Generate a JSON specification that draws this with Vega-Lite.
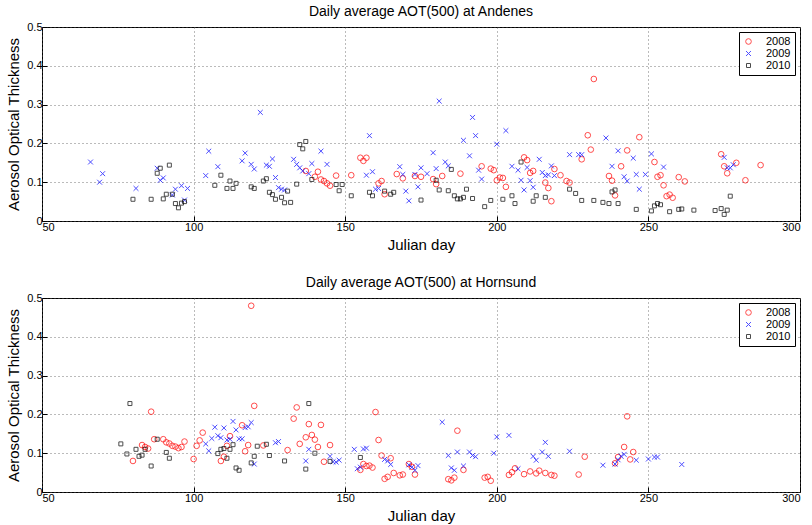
{
  "$schema": "https://vega.github.io/schema/vega-lite/v6.json",
  "padding": {"left": 6, "top": 4, "right": 4, "bottom": 0},
  "spacing": 22,
  "datasets": {
    "andenes": [
      {"year":"2008","day":137,"aot":0.129},{"year":"2008","day":141,"aot":0.127},{"year":"2008","day":140,"aot":0.114},{"year":"2008","day":142,"aot":0.107},{"year":"2008","day":143,"aot":0.103},{"year":"2008","day":144,"aot":0.097},{"year":"2008","day":145,"aot":0.091},{"year":"2008","day":147,"aot":0.117},{"year":"2008","day":152,"aot":0.118},{"year":"2008","day":155,"aot":0.163},{"year":"2008","day":156,"aot":0.155},{"year":"2008","day":157,"aot":0.163},{"year":"2008","day":161,"aot":0.097},{"year":"2008","day":162,"aot":0.103},{"year":"2008","day":163,"aot":0.069},{"year":"2008","day":167,"aot":0.121},{"year":"2008","day":169,"aot":0.11},{"year":"2008","day":173,"aot":0.116},{"year":"2008","day":175,"aot":0.114},{"year":"2008","day":179,"aot":0.108},{"year":"2008","day":180,"aot":0.095},{"year":"2008","day":182,"aot":0.116},{"year":"2008","day":188,"aot":0.122},{"year":"2008","day":195,"aot":0.141},{"year":"2008","day":198,"aot":0.135},{"year":"2008","day":199,"aot":0.131},{"year":"2008","day":200,"aot":0.105},{"year":"2008","day":201,"aot":0.112},{"year":"2008","day":202,"aot":0.111},{"year":"2008","day":203,"aot":0.088},{"year":"2008","day":209,"aot":0.164},{"year":"2008","day":210,"aot":0.157},{"year":"2008","day":211,"aot":0.124},{"year":"2008","day":212,"aot":0.129},{"year":"2008","day":216,"aot":0.099},{"year":"2008","day":217,"aot":0.085},{"year":"2008","day":218,"aot":0.051},{"year":"2008","day":219,"aot":0.134},{"year":"2008","day":221,"aot":0.118},{"year":"2008","day":223,"aot":0.103},{"year":"2008","day":224,"aot":0.099},{"year":"2008","day":228,"aot":0.159},{"year":"2008","day":230,"aot":0.221},{"year":"2008","day":231,"aot":0.184},{"year":"2008","day":232,"aot":0.366},{"year":"2008","day":237,"aot":0.116},{"year":"2008","day":238,"aot":0.104},{"year":"2008","day":239,"aot":0.066},{"year":"2008","day":241,"aot":0.141},{"year":"2008","day":243,"aot":0.182},{"year":"2008","day":247,"aot":0.216},{"year":"2008","day":252,"aot":0.152},{"year":"2008","day":253,"aot":0.114},{"year":"2008","day":254,"aot":0.118},{"year":"2008","day":255,"aot":0.092},{"year":"2008","day":256,"aot":0.064},{"year":"2008","day":257,"aot":0.068},{"year":"2008","day":258,"aot":0.06},{"year":"2008","day":260,"aot":0.113},{"year":"2008","day":262,"aot":0.102},{"year":"2008","day":274,"aot":0.172},{"year":"2008","day":275,"aot":0.141},{"year":"2008","day":276,"aot":0.123},{"year":"2008","day":279,"aot":0.15},{"year":"2008","day":282,"aot":0.105},{"year":"2008","day":287,"aot":0.144},
      {"year":"2009","day":66,"aot":0.152},{"year":"2009","day":69,"aot":0.1},{"year":"2009","day":70,"aot":0.122},{"year":"2009","day":81,"aot":0.084},{"year":"2009","day":88,"aot":0.136},{"year":"2009","day":89,"aot":0.105},{"year":"2009","day":90,"aot":0.111},{"year":"2009","day":93,"aot":0.067},{"year":"2009","day":94,"aot":0.082},{"year":"2009","day":96,"aot":0.091},{"year":"2009","day":97,"aot":0.054},{"year":"2009","day":98,"aot":0.084},{"year":"2009","day":104,"aot":0.117},{"year":"2009","day":105,"aot":0.18},{"year":"2009","day":108,"aot":0.14},{"year":"2009","day":116,"aot":0.155},{"year":"2009","day":117,"aot":0.175},{"year":"2009","day":119,"aot":0.146},{"year":"2009","day":120,"aot":0.134},{"year":"2009","day":122,"aot":0.28},{"year":"2009","day":124,"aot":0.144},{"year":"2009","day":125,"aot":0.141},{"year":"2009","day":126,"aot":0.16},{"year":"2009","day":127,"aot":0.112},{"year":"2009","day":128,"aot":0.086},{"year":"2009","day":129,"aot":0.082},{"year":"2009","day":130,"aot":0.08},{"year":"2009","day":133,"aot":0.159},{"year":"2009","day":134,"aot":0.146},{"year":"2009","day":135,"aot":0.137},{"year":"2009","day":136,"aot":0.129},{"year":"2009","day":138,"aot":0.122},{"year":"2009","day":139,"aot":0.148},{"year":"2009","day":142,"aot":0.18},{"year":"2009","day":144,"aot":0.146},{"year":"2009","day":157,"aot":0.118},{"year":"2009","day":158,"aot":0.22},{"year":"2009","day":159,"aot":0.127},{"year":"2009","day":160,"aot":0.082},{"year":"2009","day":161,"aot":0.084},{"year":"2009","day":168,"aot":0.14},{"year":"2009","day":169,"aot":0.12},{"year":"2009","day":170,"aot":0.077},{"year":"2009","day":171,"aot":0.052},{"year":"2009","day":173,"aot":0.12},{"year":"2009","day":174,"aot":0.088},{"year":"2009","day":175,"aot":0.137},{"year":"2009","day":177,"aot":0.122},{"year":"2009","day":179,"aot":0.176},{"year":"2009","day":180,"aot":0.135},{"year":"2009","day":181,"aot":0.309},{"year":"2009","day":183,"aot":0.152},{"year":"2009","day":184,"aot":0.142},{"year":"2009","day":189,"aot":0.208},{"year":"2009","day":191,"aot":0.168},{"year":"2009","day":192,"aot":0.267},{"year":"2009","day":193,"aot":0.22},{"year":"2009","day":194,"aot":0.131},{"year":"2009","day":195,"aot":0.108},{"year":"2009","day":200,"aot":0.198},{"year":"2009","day":203,"aot":0.233},{"year":"2009","day":205,"aot":0.141},{"year":"2009","day":207,"aot":0.131},{"year":"2009","day":208,"aot":0.105},{"year":"2009","day":209,"aot":0.08},{"year":"2009","day":210,"aot":0.138},{"year":"2009","day":211,"aot":0.104},{"year":"2009","day":212,"aot":0.087},{"year":"2009","day":214,"aot":0.159},{"year":"2009","day":215,"aot":0.125},{"year":"2009","day":216,"aot":0.117},{"year":"2009","day":217,"aot":0.119},{"year":"2009","day":218,"aot":0.142},{"year":"2009","day":219,"aot":0.117},{"year":"2009","day":224,"aot":0.171},{"year":"2009","day":227,"aot":0.171},{"year":"2009","day":228,"aot":0.171},{"year":"2009","day":236,"aot":0.214},{"year":"2009","day":238,"aot":0.141},{"year":"2009","day":240,"aot":0.181},{"year":"2009","day":242,"aot":0.114},{"year":"2009","day":243,"aot":0.103},{"year":"2009","day":245,"aot":0.162},{"year":"2009","day":246,"aot":0.12},{"year":"2009","day":247,"aot":0.082},{"year":"2009","day":249,"aot":0.12},{"year":"2009","day":251,"aot":0.173},{"year":"2009","day":255,"aot":0.139},{"year":"2009","day":275,"aot":0.164},{"year":"2009","day":276,"aot":0.137},{"year":"2009","day":277,"aot":0.137},{"year":"2009","day":278,"aot":0.145},
      {"year":"2010","day":80,"aot":0.056},{"year":"2010","day":86,"aot":0.056},{"year":"2010","day":88,"aot":0.123},{"year":"2010","day":89,"aot":0.136},{"year":"2010","day":90,"aot":0.057},{"year":"2010","day":91,"aot":0.069},{"year":"2010","day":92,"aot":0.144},{"year":"2010","day":93,"aot":0.069},{"year":"2010","day":94,"aot":0.045},{"year":"2010","day":95,"aot":0.034},{"year":"2010","day":96,"aot":0.046},{"year":"2010","day":97,"aot":0.05},{"year":"2010","day":107,"aot":0.092},{"year":"2010","day":109,"aot":0.118},{"year":"2010","day":111,"aot":0.084},{"year":"2010","day":112,"aot":0.103},{"year":"2010","day":113,"aot":0.084},{"year":"2010","day":114,"aot":0.097},{"year":"2010","day":119,"aot":0.088},{"year":"2010","day":120,"aot":0.084},{"year":"2010","day":123,"aot":0.103},{"year":"2010","day":124,"aot":0.109},{"year":"2010","day":125,"aot":0.074},{"year":"2010","day":126,"aot":0.068},{"year":"2010","day":127,"aot":0.056},{"year":"2010","day":129,"aot":0.061},{"year":"2010","day":130,"aot":0.047},{"year":"2010","day":131,"aot":0.077},{"year":"2010","day":132,"aot":0.048},{"year":"2010","day":134,"aot":0.095},{"year":"2010","day":135,"aot":0.197},{"year":"2010","day":136,"aot":0.186},{"year":"2010","day":137,"aot":0.205},{"year":"2010","day":139,"aot":0.107},{"year":"2010","day":147,"aot":0.094},{"year":"2010","day":148,"aot":0.078},{"year":"2010","day":149,"aot":0.094},{"year":"2010","day":152,"aot":0.065},{"year":"2010","day":158,"aot":0.074},{"year":"2010","day":159,"aot":0.065},{"year":"2010","day":163,"aot":0.077},{"year":"2010","day":165,"aot":0.069},{"year":"2010","day":166,"aot":0.074},{"year":"2010","day":175,"aot":0.054},{"year":"2010","day":180,"aot":0.105},{"year":"2010","day":181,"aot":0.08},{"year":"2010","day":184,"aot":0.078},{"year":"2010","day":185,"aot":0.133},{"year":"2010","day":186,"aot":0.065},{"year":"2010","day":187,"aot":0.057},{"year":"2010","day":188,"aot":0.057},{"year":"2010","day":189,"aot":0.061},{"year":"2010","day":190,"aot":0.082},{"year":"2010","day":192,"aot":0.058},{"year":"2010","day":196,"aot":0.037},{"year":"2010","day":198,"aot":0.053},{"year":"2010","day":202,"aot":0.056},{"year":"2010","day":205,"aot":0.065},{"year":"2010","day":206,"aot":0.045},{"year":"2010","day":208,"aot":0.152},{"year":"2010","day":212,"aot":0.051},{"year":"2010","day":213,"aot":0.065},{"year":"2010","day":216,"aot":0.061},{"year":"2010","day":224,"aot":0.082},{"year":"2010","day":226,"aot":0.071},{"year":"2010","day":228,"aot":0.053},{"year":"2010","day":232,"aot":0.053},{"year":"2010","day":235,"aot":0.048},{"year":"2010","day":237,"aot":0.045},{"year":"2010","day":238,"aot":0.075},{"year":"2010","day":239,"aot":0.08},{"year":"2010","day":240,"aot":0.045},{"year":"2010","day":246,"aot":0.03},{"year":"2010","day":251,"aot":0.026},{"year":"2010","day":252,"aot":0.039},{"year":"2010","day":253,"aot":0.045},{"year":"2010","day":254,"aot":0.042},{"year":"2010","day":257,"aot":0.024},{"year":"2010","day":260,"aot":0.03},{"year":"2010","day":261,"aot":0.031},{"year":"2010","day":265,"aot":0.028},{"year":"2010","day":272,"aot":0.027},{"year":"2010","day":274,"aot":0.032},{"year":"2010","day":275,"aot":0.017},{"year":"2010","day":276,"aot":0.028},{"year":"2010","day":277,"aot":0.064}
    ],
    "hornsund": [
      {"year":"2008","day":80,"aot":0.08},{"year":"2008","day":83,"aot":0.121},{"year":"2008","day":84,"aot":0.116},{"year":"2008","day":85,"aot":0.112},{"year":"2008","day":86,"aot":0.207},{"year":"2008","day":87,"aot":0.136},{"year":"2008","day":90,"aot":0.136},{"year":"2008","day":91,"aot":0.128},{"year":"2008","day":92,"aot":0.125},{"year":"2008","day":93,"aot":0.119},{"year":"2008","day":94,"aot":0.117},{"year":"2008","day":95,"aot":0.113},{"year":"2008","day":96,"aot":0.116},{"year":"2008","day":97,"aot":0.13},{"year":"2008","day":100,"aot":0.085},{"year":"2008","day":101,"aot":0.119},{"year":"2008","day":102,"aot":0.133},{"year":"2008","day":103,"aot":0.153},{"year":"2008","day":109,"aot":0.08},{"year":"2008","day":110,"aot":0.091},{"year":"2008","day":111,"aot":0.119},{"year":"2008","day":112,"aot":0.144},{"year":"2008","day":116,"aot":0.172},{"year":"2008","day":117,"aot":0.105},{"year":"2008","day":118,"aot":0.121},{"year":"2008","day":119,"aot":0.48},{"year":"2008","day":120,"aot":0.222},{"year":"2008","day":123,"aot":0.12},{"year":"2008","day":131,"aot":0.108},{"year":"2008","day":133,"aot":0.189},{"year":"2008","day":134,"aot":0.218},{"year":"2008","day":135,"aot":0.124},{"year":"2008","day":137,"aot":0.141},{"year":"2008","day":138,"aot":0.175},{"year":"2008","day":139,"aot":0.147},{"year":"2008","day":140,"aot":0.135},{"year":"2008","day":141,"aot":0.116},{"year":"2008","day":142,"aot":0.173},{"year":"2008","day":143,"aot":0.078},{"year":"2008","day":145,"aot":0.121},{"year":"2008","day":155,"aot":0.057},{"year":"2008","day":156,"aot":0.072},{"year":"2008","day":157,"aot":0.067},{"year":"2008","day":158,"aot":0.068},{"year":"2008","day":159,"aot":0.063},{"year":"2008","day":160,"aot":0.206},{"year":"2008","day":161,"aot":0.134},{"year":"2008","day":162,"aot":0.094},{"year":"2008","day":163,"aot":0.034},{"year":"2008","day":164,"aot":0.039},{"year":"2008","day":165,"aot":0.087},{"year":"2008","day":166,"aot":0.049},{"year":"2008","day":168,"aot":0.043},{"year":"2008","day":169,"aot":0.045},{"year":"2008","day":171,"aot":0.072},{"year":"2008","day":172,"aot":0.065},{"year":"2008","day":173,"aot":0.045},{"year":"2008","day":184,"aot":0.033},{"year":"2008","day":185,"aot":0.03},{"year":"2008","day":186,"aot":0.037},{"year":"2008","day":187,"aot":0.158},{"year":"2008","day":189,"aot":0.057},{"year":"2008","day":196,"aot":0.037},{"year":"2008","day":197,"aot":0.039},{"year":"2008","day":198,"aot":0.029},{"year":"2008","day":204,"aot":0.044},{"year":"2008","day":205,"aot":0.051},{"year":"2008","day":206,"aot":0.061},{"year":"2008","day":209,"aot":0.046},{"year":"2008","day":211,"aot":0.053},{"year":"2008","day":213,"aot":0.048},{"year":"2008","day":214,"aot":0.055},{"year":"2008","day":216,"aot":0.049},{"year":"2008","day":218,"aot":0.044},{"year":"2008","day":219,"aot":0.042},{"year":"2008","day":227,"aot":0.045},{"year":"2008","day":229,"aot":0.091},{"year":"2008","day":239,"aot":0.074},{"year":"2008","day":240,"aot":0.09},{"year":"2008","day":242,"aot":0.116},{"year":"2008","day":243,"aot":0.195},{"year":"2008","day":244,"aot":0.084},{"year":"2008","day":245,"aot":0.103},
      {"year":"2009","day":104,"aot":0.124},{"year":"2009","day":105,"aot":0.106},{"year":"2009","day":106,"aot":0.138},{"year":"2009","day":107,"aot":0.167},{"year":"2009","day":108,"aot":0.145},{"year":"2009","day":109,"aot":0.14},{"year":"2009","day":110,"aot":0.165},{"year":"2009","day":111,"aot":0.134},{"year":"2009","day":112,"aot":0.136},{"year":"2009","day":113,"aot":0.182},{"year":"2009","day":114,"aot":0.16},{"year":"2009","day":115,"aot":0.137},{"year":"2009","day":116,"aot":0.137},{"year":"2009","day":117,"aot":0.166},{"year":"2009","day":118,"aot":0.168},{"year":"2009","day":119,"aot":0.179},{"year":"2009","day":120,"aot":0.072},{"year":"2009","day":127,"aot":0.127},{"year":"2009","day":128,"aot":0.13},{"year":"2009","day":137,"aot":0.08},{"year":"2009","day":138,"aot":0.11},{"year":"2009","day":145,"aot":0.092},{"year":"2009","day":146,"aot":0.078},{"year":"2009","day":147,"aot":0.077},{"year":"2009","day":148,"aot":0.082},{"year":"2009","day":153,"aot":0.11},{"year":"2009","day":154,"aot":0.06},{"year":"2009","day":155,"aot":0.064},{"year":"2009","day":156,"aot":0.111},{"year":"2009","day":157,"aot":0.113},{"year":"2009","day":163,"aot":0.084},{"year":"2009","day":164,"aot":0.08},{"year":"2009","day":165,"aot":0.071},{"year":"2009","day":171,"aot":0.07},{"year":"2009","day":172,"aot":0.064},{"year":"2009","day":173,"aot":0.056},{"year":"2009","day":174,"aot":0.068},{"year":"2009","day":182,"aot":0.18},{"year":"2009","day":184,"aot":0.094},{"year":"2009","day":185,"aot":0.062},{"year":"2009","day":186,"aot":0.056},{"year":"2009","day":187,"aot":0.103},{"year":"2009","day":189,"aot":0.067},{"year":"2009","day":191,"aot":0.103},{"year":"2009","day":192,"aot":0.094},{"year":"2009","day":193,"aot":0.091},{"year":"2009","day":199,"aot":0.1},{"year":"2009","day":200,"aot":0.142},{"year":"2009","day":204,"aot":0.146},{"year":"2009","day":207,"aot":0.06},{"year":"2009","day":212,"aot":0.092},{"year":"2009","day":213,"aot":0.082},{"year":"2009","day":215,"aot":0.103},{"year":"2009","day":216,"aot":0.128},{"year":"2009","day":217,"aot":0.092},{"year":"2009","day":224,"aot":0.105},{"year":"2009","day":235,"aot":0.069},{"year":"2009","day":239,"aot":0.072},{"year":"2009","day":240,"aot":0.083},{"year":"2009","day":241,"aot":0.092},{"year":"2009","day":242,"aot":0.097},{"year":"2009","day":246,"aot":0.082},{"year":"2009","day":250,"aot":0.085},{"year":"2009","day":252,"aot":0.09},{"year":"2009","day":253,"aot":0.09},{"year":"2009","day":261,"aot":0.071},
      {"year":"2010","day":76,"aot":0.124},{"year":"2010","day":78,"aot":0.098},{"year":"2010","day":79,"aot":0.228},{"year":"2010","day":81,"aot":0.11},{"year":"2010","day":82,"aot":0.092},{"year":"2010","day":83,"aot":0.095},{"year":"2010","day":84,"aot":0.11},{"year":"2010","day":86,"aot":0.067},{"year":"2010","day":88,"aot":0.136},{"year":"2010","day":91,"aot":0.102},{"year":"2010","day":92,"aot":0.087},{"year":"2010","day":108,"aot":0.099},{"year":"2010","day":109,"aot":0.11},{"year":"2010","day":110,"aot":0.112},{"year":"2010","day":111,"aot":0.087},{"year":"2010","day":112,"aot":0.11},{"year":"2010","day":113,"aot":0.122},{"year":"2010","day":114,"aot":0.062},{"year":"2010","day":115,"aot":0.056},{"year":"2010","day":119,"aot":0.075},{"year":"2010","day":120,"aot":0.092},{"year":"2010","day":121,"aot":0.118},{"year":"2010","day":124,"aot":0.123},{"year":"2010","day":125,"aot":0.094},{"year":"2010","day":130,"aot":0.08},{"year":"2010","day":137,"aot":0.059},{"year":"2010","day":138,"aot":0.228},{"year":"2010","day":140,"aot":0.1},{"year":"2010","day":145,"aot":0.079},{"year":"2010","day":155,"aot":0.089}
    ]
  },
  "vconcat": [
    {
      "data": {"name": "andenes"},
      "title": {"text": "Daily average AOT(500) at Andenes"},
      "width": 758,
      "height": 194,
      "mark": {"type": "point", "filled": false, "strokeWidth": 1},
      "encoding": {
        "x": {"field": "day", "type": "quantitative", "title": "Julian day", "scale": {"domain": [50, 300], "nice": false}, "axis": {"values": [50, 100, 150, 200, 250, 300]}},
        "y": {"field": "aot", "type": "quantitative", "title": "Aerosol Optical Thickness", "scale": {"domain": [0, 0.5], "nice": false}, "axis": {"values": [0, 0.1, 0.2, 0.3, 0.4, 0.5], "format": "~g"}},
        "color": {"field": "year", "type": "nominal", "scale": {"domain": ["2008", "2009", "2010"], "range": ["#ff0000", "#0000ff", "#000000"]}, "legend": {"title": null}},
        "shape": {"field": "year", "type": "nominal", "scale": {"domain": ["2008", "2009", "2010"], "range": ["circle", "M-1,-1L1,1M1,-1L-1,1", "square"]}, "legend": {"title": null}},
        "size": {"field": "year", "type": "nominal", "scale": {"domain": ["2008", "2009", "2010"], "range": [32, 16, 24]}, "legend": null}
      }
    },
    {
      "data": {"name": "hornsund"},
      "title": {"text": "Daily average AOT(500) at Hornsund"},
      "width": 758,
      "height": 194,
      "mark": {"type": "point", "filled": false, "strokeWidth": 1},
      "encoding": {
        "x": {"field": "day", "type": "quantitative", "title": "Julian day", "scale": {"domain": [50, 300], "nice": false}, "axis": {"values": [50, 100, 150, 200, 250, 300]}},
        "y": {"field": "aot", "type": "quantitative", "title": "Aerosol Optical Thickness", "scale": {"domain": [0, 0.5], "nice": false}, "axis": {"values": [0, 0.1, 0.2, 0.3, 0.4, 0.5], "format": "~g"}},
        "color": {"field": "year", "type": "nominal", "scale": {"domain": ["2008", "2009", "2010"], "range": ["#ff0000", "#0000ff", "#000000"]}, "legend": {"title": null}},
        "shape": {"field": "year", "type": "nominal", "scale": {"domain": ["2008", "2009", "2010"], "range": ["circle", "M-1,-1L1,1M1,-1L-1,1", "square"]}, "legend": {"title": null}},
        "size": {"field": "year", "type": "nominal", "scale": {"domain": ["2008", "2009", "2010"], "range": [32, 16, 24]}, "legend": null}
      }
    }
  ],
  "resolve": {
    "scale": {"color": "independent", "shape": "independent", "size": "independent"},
    "legend": {"color": "independent", "shape": "independent"}
  },
  "config": {
    "font": "Liberation Sans",
    "background": "white",
    "view": {"stroke": "#000000", "strokeWidth": 1},
    "title": {"fontSize": 14, "fontWeight": "normal", "color": "#000000", "offset": 2, "anchor": "middle"},
    "axis": {
      "labelFontSize": 11,
      "labelColor": "#000000",
      "titleFontSize": 15,
      "titleFontWeight": "normal",
      "titleColor": "#000000",
      "domain": false,
      "grid": true,
      "gridColor": "#555555",
      "gridDash": [1, 3],
      "gridOpacity": 0.8,
      "tickColor": "#000000",
      "tickSize": -5,
      "labelPadding": 5
    },
    "axisX": {"titlePadding": 5},
    "axisY": {"titlePadding": 5},
    "legend": {
      "orient": "top-right",
      "offset": 5,
      "strokeColor": "#000000",
      "fillColor": "#ffffff",
      "padding": 4,
      "labelFontSize": 11,
      "labelColor": "#000000",
      "symbolSize": 28,
      "symbolStrokeWidth": 1,
      "rowPadding": 0,
      "labelOffset": 12
    }
  }
}
